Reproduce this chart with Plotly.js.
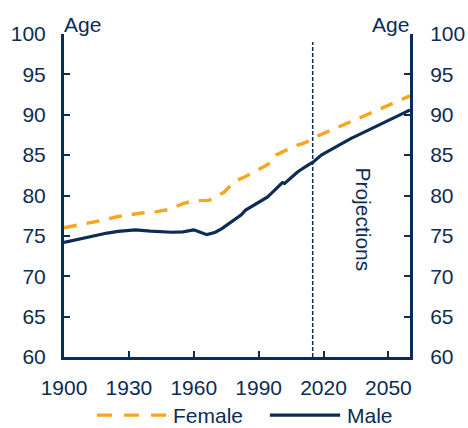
<!DOCTYPE html>
<html>
<head>
<meta charset="utf-8">
<script src="https://cdn.plot.ly/plotly-3.0.1.min.js"></script>
<style>
html,body{margin:0;padding:0;background:#fff;}
#chart{width:468px;height:428px;}
</style>
</head>
<body>
<div id="chart"></div>
<script>
const maleYears = [1900,1905,1910,1915,1920,1925,1930,1933,1940,1945,1950,1955,1958,1960,1963,1966,1968,1970,1973,1976,1979,1982,1984,1987,1990,1992,1994,1996,1998,2000,2001,2002,2004,2006,2008,2009,2011,2013,2015,2017,2019,2021,2023,2025,2027,2029,2031,2033,2035,2037,2039,2041,2043,2045,2047,2049,2051,2053,2055,2057,2060];
const maleAge = [74.2,74.5,74.8,75.1,75.35,75.55,75.7,75.75,75.6,75.5,75.45,75.5,75.6,75.75,75.45,75.15,75.3,75.45,75.9,76.5,77.0,77.6,78.2,78.7,79.2,79.5,79.8,80.3,80.8,81.4,81.6,81.5,82.0,82.5,82.9,83.1,83.5,83.8,84.1,84.6,85.0,85.3,85.6,85.9,86.3,86.6,86.9,87.1,87.35,87.6,87.9,88.15,88.4,88.65,88.9,89.2,89.45,89.7,89.95,90.2,90.6];
const femaleYears = [1900,1910,1917,1925,1935,1943,1949,1955,1960,1967,1970,1974,1978,1981,1984,1989,1994,1996,1998,2001,2004,2006,2008,2010,2012,2015,2020,2027,2033,2040,2046,2052,2056,2060];
const femaleAge = [76.0,76.5,76.9,77.4,77.8,78.0,78.3,79.0,79.35,79.4,79.8,80.4,81.5,82.0,82.35,83.05,83.8,84.2,85.0,85.4,85.8,86.0,86.25,86.4,86.6,87.1,87.7,88.5,89.2,90.0,90.7,91.4,91.9,92.35];
const xTicks = [1900,1930,1960,1990,2020,2050];
const yTicks = [60,65,70,75,80,85,90,95,100];
const seriesNames = ['Female', 'Male'];
const projectionYear = 2015;

const navy = '#0C2C54';
const orange = '#F9A51D';
const fam = 'Liberation Sans, Arial, sans-serif';
const font = {family: fam, size: 21, color: navy};

const traces = [
  {x: femaleYears, y: femaleAge, name: seriesNames[0], type: 'scatter', mode: 'lines',
   line: {color: orange, width: 3.4, dash: '13px,10px'}, showlegend: false},
  {x: maleYears, y: maleAge, name: seriesNames[1], type: 'scatter', mode: 'lines',
   line: {color: navy, width: 3.2}, showlegend: false},
  {x: [], y: [], yaxis: 'y2', type: 'scatter', mode: 'lines', showlegend: false, hoverinfo: 'skip'}
];

const axisY = {
  range: [60, 100], tickvals: yTicks, ticktext: yTicks.map(String),
  showgrid: false, zeroline: false, showline: true, linecolor: navy, linewidth: 3,
  ticks: 'inside', ticklen: 6, tickwidth: 2, tickcolor: navy, tickfont: font,
  ticklabelstandoff: 11, fixedrange: true
};

const legY = -0.180;
const layout = {
  width: 468, height: 428,
  margin: {l: 64, r: 58, t: 34, b: 71},
  paper_bgcolor: '#fff', plot_bgcolor: '#fff',
  font: font,
  showlegend: false,
  xaxis: {
    range: [1900, 2060], tickvals: xTicks, ticktext: xTicks.map(String),
    showgrid: false, zeroline: false, showline: true, linecolor: navy, linewidth: 3,
    ticks: 'inside', ticklen: 6, tickwidth: 2, tickcolor: navy, tickfont: font,
    ticklabelstandoff: 10, fixedrange: true
  },
  yaxis: Object.assign({}, axisY, {side: 'left'}),
  yaxis2: Object.assign({}, axisY, {side: 'right', overlaying: 'y', anchor: 'x', ticklabelstandoff: 13}),
  shapes: [
    {type: 'line', xref: 'x', yref: 'y', x0: projectionYear, x1: projectionYear, y0: 60, y1: 99,
     line: {color: navy, width: 1.5, dash: '4px,2px'}},
    {type: 'line', xref: 'paper', yref: 'paper', x0: 0.0954, x1: 0.2977, y0: legY, y1: legY,
     line: {color: orange, width: 3.4, dash: '15px,12px'}},
    {type: 'line', xref: 'paper', yref: 'paper', x0: 0.595, x1: 0.798, y0: legY, y1: legY,
     line: {color: navy, width: 3.2}}
  ],
  annotations: [
    {text: 'Age', xref: 'paper', yref: 'paper', x: 0, y: 1, xanchor: 'left', yanchor: 'bottom',
     showarrow: false, font: font, xshift: -2, yshift: -4},
    {text: 'Age', xref: 'paper', yref: 'paper', x: 1, y: 1, xanchor: 'right', yanchor: 'bottom',
     showarrow: false, font: font, xshift: 1, yshift: -4},
    {text: 'Projections', xref: 'x', yref: 'y', x: 2038.5, y: 77.1, textangle: 90,
     showarrow: false, font: font},
    {text: seriesNames[0], xref: 'paper', yref: 'paper', x: 0.312, y: legY, xanchor: 'left', yanchor: 'middle',
     showarrow: false, font: font, borderpad: 0},
    {text: seriesNames[1], xref: 'paper', yref: 'paper', x: 0.815, y: legY, xanchor: 'left', yanchor: 'middle',
     showarrow: false, font: font, borderpad: 0}
  ]
};

Plotly.newPlot('chart', traces, layout, {staticPlot: true, displayModeBar: false});
</script>
</body>
</html>
